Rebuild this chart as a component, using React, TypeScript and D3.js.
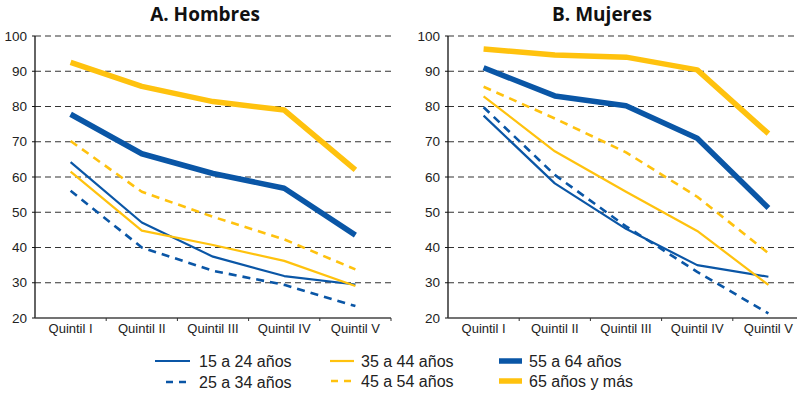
import React from "react";
import * as d3 from "d3";

const categories = ["Quintil I", "Quintil II", "Quintil III", "Quintil IV", "Quintil V"];
const yTicks = [20, 30, 40, 50, 60, 70, 80, 90, 100];
const seriesNames = ["15 a 24 años", "25 a 34 años", "35 a 44 años", "45 a 54 años", "55 a 64 años", "65 años y más"];

const hombres15_24 = [64.2, 47.1, 37.4, 31.9, 29.5];
const hombres25_34 = [56.1, 40.0, 33.4, 29.4, 23.4];
const hombres35_44 = [61.5, 44.8, 40.7, 36.2, 29.1];
const hombres45_54 = [70.2, 55.8, 48.7, 42.3, 33.8];
const hombres55_64 = [77.8, 66.6, 61.0, 56.8, 43.5];
const hombres65 = [92.5, 85.7, 81.4, 79.0, 62.0];

const mujeres15_24 = [77.4, 58.2, 45.3, 35.0, 31.7];
const mujeres25_34 = [79.8, 60.6, 46.0, 33.1, 21.3];
const mujeres35_44 = [82.9, 67.3, 55.8, 44.7, 29.4];
const mujeres45_54 = [85.6, 76.6, 67.0, 54.4, 38.4];
const mujeres55_64 = [91.0, 83.0, 80.2, 71.0, 51.2];
const mujeres65 = [96.3, 94.6, 94.0, 90.4, 72.3];

const BLUE = "#0a56a6";
const YELLOW = "#ffc20e";

const styles = [
  { color: BLUE, width: 2.2, dash: null },
  { color: BLUE, width: 2.6, dash: "8,6" },
  { color: YELLOW, width: 2.2, dash: null },
  { color: YELLOW, width: 2.6, dash: "8,6" },
  { color: BLUE, width: 5.5, dash: null },
  { color: YELLOW, width: 5.5, dash: null },
];

const panels = [
  {
    title: "A. Hombres",
    titleX: 205,
    x0: 35,
    x1: 391,
    gridEnd: 391,
    data: [hombres15_24, hombres25_34, hombres35_44, hombres45_54, hombres55_64, hombres65],
  },
  {
    title: "B. Mujeres",
    titleX: 602,
    x0: 448,
    x1: 804,
    gridEnd: 797,
    data: [mujeres15_24, mujeres25_34, mujeres35_44, mujeres45_54, mujeres55_64, mujeres65],
  },
];

const legendItems = [
  { l0: 155, l1: 190, tx: 199, y: 361 },
  { l0: 166, l1: 188, tx: 199, y: 382 },
  { l0: 330, l1: 354, tx: 361, y: 361 },
  { l0: 331, l1: 354, tx: 361, y: 381 },
  { l0: 499, l1: 522, tx: 529, y: 361 },
  { l0: 499, l1: 522, tx: 529, y: 381 },
];

const yScale = d3.scaleLinear().domain([20, 100]).range([318, 36]);

function Panel({ p }: { p: (typeof panels)[number] }) {
  const x = d3.scaleBand<string>().domain(categories).range([p.x0, p.x1]).padding(0);
  const cx = (c: string) => (x(c) as number) + x.bandwidth() / 2;
  const line = d3
    .line<number>()
    .x((_, i) => cx(categories[i]))
    .y((d) => yScale(d));
  const boundaries = categories.map((c) => (x(c) as number) + x.bandwidth());
  return (
    <g>
      <text
        x={p.titleX}
        y={21}
        textAnchor="middle"
        fontFamily="'Open Sans', sans-serif"
        fontWeight={700}
        fontSize={19}
        fill="#111"
      >
        {p.title}
      </text>
      {yTicks.slice(1).map((t) => (
        <line
          key={"g" + t}
          x1={p.x0}
          x2={p.gridEnd}
          y1={yScale(t)}
          y2={yScale(t)}
          stroke="#333"
          strokeWidth={1.2}
          strokeDasharray="6,4"
        />
      ))}
      {yTicks.map((t) => (
        <g key={"t" + t}>
          <line x1={p.x0 - 3} x2={p.x0} y1={yScale(t)} y2={yScale(t)} stroke="#111" strokeWidth={1} />
          <text
            x={p.x0 - 8}
            y={yScale(t)}
            dy="0.35em"
            textAnchor="end"
            fontFamily="'Liberation Sans', Arial, sans-serif"
            fontSize={13.5}
            fill="#222"
          >
            {t}
          </text>
        </g>
      ))}
      <line x1={p.x0} x2={p.x0} y1={yScale(100)} y2={yScale(20)} stroke="#111" strokeWidth={1.3} />
      <line x1={p.x0} x2={p.gridEnd} y1={yScale(20)} y2={yScale(20)} stroke="#444" strokeWidth={1.6} />
      {boundaries.map((b, i) => (
        <line key={"xb" + i} x1={b} x2={b} y1={yScale(20)} y2={yScale(20) + 3} stroke="#333" strokeWidth={1} />
      ))}
      {categories.map((c) => (
        <text
          key={c}
          x={cx(c)}
          y={333}
          textAnchor="middle"
          fontFamily="'Liberation Sans', Arial, sans-serif"
          fontSize={13}
          fill="#222"
        >
          {c}
        </text>
      ))}
      {p.data.map((d, i) => (
        <path
          key={"s" + i}
          d={line(d) || ""}
          fill="none"
          stroke={styles[i].color}
          strokeWidth={styles[i].width}
          strokeDasharray={styles[i].dash || undefined}
          strokeLinejoin="round"
        />
      ))}
    </g>
  );
}

export default function App() {
  return (
    <svg
      width={797}
      height={393}
      style={{ position: "absolute", left: 0, top: 0, background: "#fff" }}
    >
      <rect x={0} y={0} width={797} height={393} fill="#fff" />
      {panels.map((p) => (
        <Panel key={p.title} p={p} />
      ))}
      {legendItems.map((li, i) => (
        <g key={"l" + i}>
          <line
            x1={li.l0}
            x2={li.l1}
            y1={li.y}
            y2={li.y}
            stroke={styles[i].color}
            strokeWidth={styles[i].width}
            strokeDasharray={styles[i].dash ? "7,6" : undefined}
          />
          <text
            x={li.tx}
            y={li.y}
            dy="0.35em"
            fontFamily="'Liberation Sans', Arial, sans-serif"
            fontSize={16}
            fill="#222"
          >
            {seriesNames[i]}
          </text>
        </g>
      ))}
    </svg>
  );
}
